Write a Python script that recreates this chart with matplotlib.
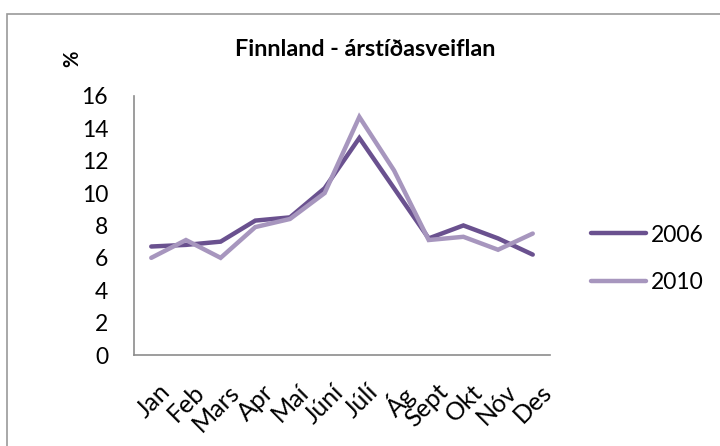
import matplotlib
matplotlib.use('Agg')
import matplotlib.pyplot as plt
from matplotlib.patches import Rectangle
from matplotlib.transforms import ScaledTranslation

plt.rcParams['font.family'] = ['Lato', 'DejaVu Sans']

# Datos
meses = ['Jan', 'Feb', 'Mars', 'Apr', 'Maí', 'Júní', 'Júlí', 'Ág', 'Sept', 'Okt', 'Nóv', 'Des']
v2006 = [6.7, 6.8, 7.0, 8.3, 8.5, 10.3, 13.4, 10.3, 7.2, 8.0, 7.2, 6.2]
v2010 = [6.0, 7.1, 6.0, 7.9, 8.4, 10.0, 14.7, 11.4, 7.1, 7.3, 6.5, 7.5]
series = ['2006', '2010']
colores = ['#6A518F', '#A796BE']

fig = plt.figure(figsize=(7.2, 4.46), dpi=100)
ax = fig.add_axes([0.186, 0.204, 0.578, 0.581])

x = range(len(meses))
ax.plot(x, v2006, color=colores[0], lw=3.2, label=series[0], solid_capstyle='round', solid_joinstyle='miter')
ax.plot(x, v2010, color=colores[1], lw=3.2, label=series[1], solid_capstyle='round', solid_joinstyle='miter')

ax.set_xlim(-0.5, 11.5)
ax.set_ylim(0, 16)
ax.set_yticks(range(0, 17, 2))
ax.set_xticks(list(x))
ax.set_xticklabels([])
ax.tick_params(axis='y', labelsize=16.5, length=0, pad=18.5)
ax.tick_params(axis='x', length=0)

# etiquetas del eje x giradas, a mano
off = ScaledTranslation(5 / 72, -18 / 72, fig.dpi_scale_trans)
for i, m in enumerate(meses):
    ax.text(i, 0, m, transform=ax.get_xaxis_transform() + off, rotation=45,
            ha='right', va='top', rotation_mode='anchor', fontsize=18)

for s in ['top', 'right']:
    ax.spines[s].set_visible(False)
for s in ['left', 'bottom']:
    ax.spines[s].set_color('#8C8C8C')
    ax.spines[s].set_linewidth(1.2)

fig.text(0.507, 0.888, 'Finnland - árstíðasveiflan', ha='center', va='center', fontsize=16.8, fontweight='bold')
fig.text(0.100, 0.868, '%', ha='center', va='center', rotation=90, fontsize=14.5, fontweight='bold')

fig.legend(loc='center left', bbox_to_anchor=(0.792, 0.42), frameon=False, fontsize=16.5,
           handlelength=2.4, handletextpad=0.22, labelspacing=1.15)

fig.add_artist(Rectangle((0.010, -0.05), 1.2, 1.018, transform=fig.transFigure,
                         fill=False, edgecolor='#9A9A9A', lw=1.2))

fig.savefig('out.png', dpi=100)
